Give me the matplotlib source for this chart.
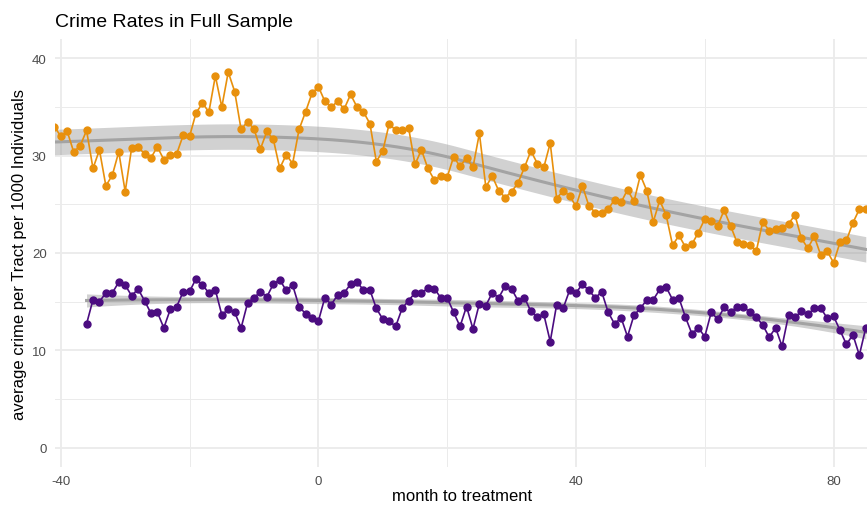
import numpy as np
import matplotlib
matplotlib.use("Agg")
import matplotlib.pyplot as plt
from matplotlib.ticker import MultipleLocator

plt.rcParams['font.family'] = ['Liberation Sans', 'DejaVu Sans']
plt.rcParams['axes.unicode_minus'] = False

# months relative to treatment
months_orange = np.arange(-41, 86)
months_purple = np.arange(-36, 86)

# average crime per tract per 1000 individuals
crime_orange = [
    33.0, 32.0, 32.5, 30.4, 31.0, 32.6, 28.7, 30.6, 26.9, 28.0,   # -41..-32
    30.4, 26.3, 30.8, 30.9, 30.2, 29.8, 30.9, 29.6, 30.1, 30.2,   # -31..-22
    32.1, 32.0, 34.4, 35.4, 34.5, 38.2, 35.0, 38.6, 36.6, 32.7,   # -21..-12
    33.5, 32.75, 30.7, 32.5, 31.7, 28.7, 30.1, 29.2, 32.7, 34.5,  # -11..-2
    36.4, 37.1, 35.6, 35.0, 35.6, 34.8, 36.3, 35.0, 34.5, 33.3,   # -1..8
    29.4, 30.5, 33.3, 32.6, 32.6, 32.9, 29.1, 30.6, 28.7, 27.5,   # 9..18
    27.9, 27.8, 29.9, 28.9, 29.8, 28.8, 32.3, 26.8, 27.9, 26.4,   # 19..28
    25.7, 26.3, 27.2, 28.8, 30.5, 29.2, 28.8, 31.3, 25.6, 26.4,   # 29..38
    25.9, 24.8, 26.9, 24.85, 24.15, 24.1, 24.5, 25.5, 25.2, 26.5,  # 39..48
    25.3, 28.0, 26.4, 23.2, 25.4, 23.9, 20.8, 21.8, 20.6, 20.9,   # 49..58
    22.1, 23.5, 23.3, 22.8, 24.4, 22.8, 21.1, 20.9, 20.8, 20.2,   # 59..68
    23.2, 22.3, 22.5, 22.6, 23.0, 23.9, 21.5, 20.5, 21.7, 19.8,   # 69..78
    20.2, 19.0, 21.1, 21.3, 23.1, 24.5, 24.5,                     # 79..85
]
crime_purple = [
    12.7, 15.2, 15.0, 15.9, 15.9, 17.0, 16.7, 15.6, 16.3, 15.1,   # -36..-27
    13.8, 13.9, 12.3, 14.2, 14.5, 16.0, 16.05, 17.35, 16.7, 15.9,  # -26..-17
    16.2, 13.65, 14.2, 13.9, 12.3, 14.85, 15.4, 16.0, 15.5, 16.8,  # -16..-7
    17.25, 16.15, 16.7, 14.5, 13.75, 13.3, 13.0, 15.4, 14.7, 15.7,  # -6..3
    15.9, 16.8, 17.0, 16.2, 16.2, 14.3, 13.2, 13.0, 12.45, 14.3,  # 4..13
    15.1, 15.9, 15.85, 16.4, 16.35, 15.4, 15.4, 13.9, 12.45, 14.5,  # 14..23
    12.2, 14.8, 14.6, 15.9, 15.4, 16.6, 16.3, 15.1, 15.4, 14.0,   # 24..33
    13.4, 13.7, 10.9, 14.7, 14.3, 16.15, 15.9, 16.8, 16.15, 15.4,  # 34..43
    16.0, 13.9, 12.7, 13.35, 11.4, 13.6, 14.3, 15.2, 15.2, 16.25,  # 44..53
    16.5, 15.2, 15.35, 13.4, 11.7, 12.3, 11.4, 13.9, 13.2, 14.4,  # 54..63
    13.9, 14.45, 14.5, 13.9, 13.4, 12.6, 11.35, 12.3, 10.4, 13.6,  # 64..73
    13.4, 14.0, 13.7, 14.3, 14.35, 13.3, 13.5, 12.05, 10.6, 11.6,  # 74..83
    9.5, 12.3,                                                    # 84..85
]

orange = '#E8900C'
purple = '#4B0C80'


def local_fit(x, y, x0, q, degree):
    # weighted local polynomial at x0; returns smoother rows for value and slope
    d = np.abs(x - x0)
    h = np.sort(d)[q - 1]
    w = np.clip(1 - (d / h) ** 3, 0, None) ** 3
    X = np.column_stack([(x - x0) ** k for k in range(degree + 1)])
    XtW = X.T * w
    B = np.linalg.solve(XtW @ X, XtW)
    return B[0], B[1]


def loess(x, y, grid, span=0.75, degree=2, nvert=5):
    # loess evaluated at a few vertices, cubic hermite in between
    x = np.asarray(x, float)
    y = np.asarray(y, float)
    n = len(x)
    q = int(np.floor(n * span))
    verts = np.quantile(x, np.linspace(0, 1, nvert))
    V = np.array([local_fit(x, y, v, q, degree)[0] for v in verts])
    S = np.array([local_fit(x, y, v, q, degree)[1] for v in verts])

    def rows(pts):
        L = np.zeros((len(pts), n))
        for i, p in enumerate(pts):
            j = min(np.searchsorted(verts, p, side='right') - 1, len(verts) - 2)
            a, b = verts[j], verts[j + 1]
            t = (p - a) / (b - a)
            hw = b - a
            h00 = 2 * t ** 3 - 3 * t ** 2 + 1
            h10 = t ** 3 - 2 * t ** 2 + t
            h01 = -2 * t ** 3 + 3 * t ** 2
            h11 = t ** 3 - t ** 2
            L[i] = h00 * V[j] + h10 * hw * S[j] + h01 * V[j + 1] + h11 * hw * S[j + 1]
        return L

    Lx = rows(x)
    resid = y - Lx @ y
    M = np.eye(n) - Lx
    sigma = np.sqrt(np.sum(resid ** 2) / np.trace(M.T @ M))
    Lg = rows(grid)
    fit = Lg @ y
    se = sigma * np.sqrt(np.sum(Lg ** 2, axis=1))
    return fit, se


fig = plt.figure(figsize=(8.67, 5.06), dpi=100)
ax = fig.add_axes([55 / 867, 38 / 506, 814 / 867, 428 / 506])

# (months, values, colour, span, degree, band multiplier, flat band)
series = [(months_orange, crime_orange, orange, 0.7, 1, 4.4, True),
          (months_purple, crime_purple, purple, 0.75, 2, 1.4, False)]
for xs, ys, col, span, deg, z, flat in series:
    grid = np.linspace(xs[0], xs[-1], 200)
    fit, se = loess(xs, ys, grid, span, deg)
    half = z * (np.full_like(se, np.median(se)) if flat else se)
    ax.fill_between(grid, fit - half, fit + half,
                    color='#999999', alpha=0.45, lw=0, zorder=2)
    ax.plot(grid, fit, color='#a3a3a3', lw=2.2, zorder=3)
    ax.plot(xs, ys, '-o', color=col, lw=1.2, ms=5, zorder=4)

ax.set_xlim(-40.9, 85.5)
ax.set_ylim(-2, 42)
ax.xaxis.set_major_locator(MultipleLocator(40))
ax.xaxis.set_minor_locator(MultipleLocator(20))
ax.yaxis.set_major_locator(MultipleLocator(10))
ax.yaxis.set_minor_locator(MultipleLocator(5))
ax.grid(which='major', color='#ebebeb', lw=1.3)
ax.grid(which='minor', color='#ebebeb', lw=0.7)
ax.set_axisbelow(True)
for s in ax.spines.values():
    s.set_visible(False)
ax.tick_params(which='both', length=0, labelsize=9.5, labelcolor='#4d4d4d')
ax.tick_params(axis='x', pad=6)
ax.tick_params(axis='y', pad=6)

ax.set_xlabel('month to treatment', fontsize=12)
ax.xaxis.set_label_coords(0.5, -21 / 428)
ax.set_ylabel('average crime per Tract per 1000 Individuals', fontsize=12)
ax.yaxis.set_label_coords(-28 / 814, 0.5)
fig.text(55 / 867, 1 - 27 / 506, 'Crime Rates in Full Sample', fontsize=14,
         va='baseline', ha='left')

fig.savefig('out.png', dpi=100)
